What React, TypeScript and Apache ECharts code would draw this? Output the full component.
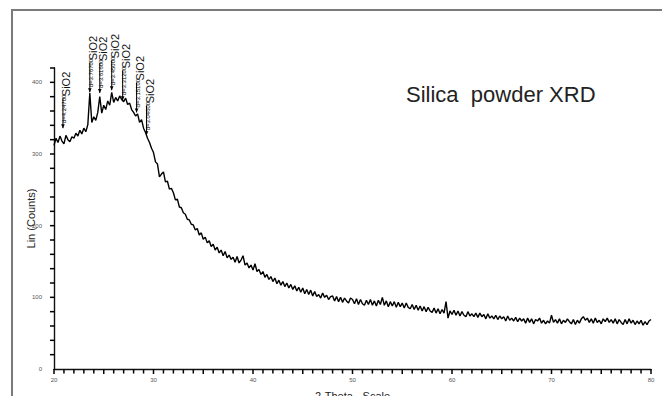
import React, { useEffect, useRef } from "react";
import * as echarts from "echarts";

// XRD scan: 2-theta from 20 to 80 degrees, step 0.2
const scanStart = 20;
const scanStep = 0.2;
const counts = [
  312, 322, 316, 325, 318, 314, 326, 320, 317, 324,
  322, 329, 325, 333, 328, 336, 331, 341, 385, 344,
  352, 347, 358, 380, 357, 368, 362, 374, 368, 386,
  372, 379, 374, 381, 376, 373, 378, 369, 371, 362,
  358, 353, 356, 344, 348, 336, 330, 322, 316, 308,
  302, 289, 286, 268, 272, 275, 261, 262, 251, 252,
  246, 236, 237, 226, 225, 218, 216, 209, 208, 202,
  201, 194, 196, 187, 190, 181, 184, 176, 179, 171,
  174, 166, 170, 162, 166, 158, 164, 155, 159, 153,
  156, 149, 157, 148, 152, 158, 145, 148, 141, 145,
  138, 147, 136, 139, 132, 136, 128, 132, 125, 129,
  122, 127, 119, 124, 117, 122, 115, 120, 113, 118,
  111, 116, 109, 114, 107, 113, 105, 111, 104, 110,
  102, 108, 101, 104, 99, 106, 100, 103, 97, 101,
  102, 95, 101, 94, 100, 93, 99, 95, 92, 99,
  97, 91, 98, 90, 97, 91, 89, 96, 90, 97,
  89, 95, 88, 96, 90, 100, 89, 95, 87, 94,
  88, 94, 86, 93, 87, 92, 85, 92, 86, 84,
  90, 83, 89, 82, 88, 81, 87, 80, 86, 81,
  79, 85, 78, 84, 77, 83, 78, 94, 71, 81,
  76, 82, 75, 81, 74, 80, 75, 73, 80, 74,
  77, 73, 78, 72, 78, 73, 76, 70, 77, 71,
  74, 70, 75, 69, 74, 70, 73, 67, 74, 68,
  71, 67, 72, 66, 71, 67, 70, 64, 71, 65,
  70, 63, 69, 67, 71, 64, 68, 63, 67, 64,
  75, 65, 69, 64, 70, 63, 68, 65, 70, 66,
  63, 69, 62, 68, 64, 70, 73, 68, 71, 65,
  70, 64, 71, 65, 68, 63, 70, 66, 71, 65,
  69, 64, 70, 63, 69, 65, 62, 69, 63, 70,
  64, 68, 62, 67, 63, 68, 61, 66, 62, 67,
  69,
];

// Phase identification markers
const peakAngles = [20.9, 23.6, 24.6, 25.8, 26.9, 28.3, 29.3];
const peakTips = [336, 386, 385, 389, 375, 358, 326];
const peakDLabels = [
  "d=4.24700",
  "d=3.76700",
  "d=3.61600",
  "d=3.45000",
  "d=3.31200",
  "d=3.15100",
  "d=3.04600",
];
const peakPhase = "SiO2";

// Axis ranges and tick steps
const xMin = 20;
const xMax = 80;
const xLabelStep = 10;
const xTickStep = 1;
const yMin = 0;
const yMax = 420;
const yLabelStep = 100;
const yTickStep = 20;

const chartTitle = "Silica  powder XRD";
const xName = "2-Theta - Scale";
const yName = "Lin (Counts)";

const FONT = "'Liberation Sans', Arial, sans-serif";

export default function App() {
  const ref = useRef<HTMLDivElement>(null);

  useEffect(() => {
    if (!ref.current) return;
    const chart = echarts.init(ref.current, null, { renderer: "svg" });

    const lineData = counts.map((c, i) => [
      +(scanStart + i * scanStep).toFixed(1),
      c,
    ]);
    const markerData = peakAngles.map((a, i) => [a, peakTips[i], i]);

    const xTickData: number[][] = [];
    for (let v = xMin; v <= xMax; v += xTickStep) xTickData.push([v, yMin]);
    const yTickData: number[][] = [];
    for (let v = yMin + yTickStep; v <= yMax; v += yTickStep)
      yTickData.push([xMin, v]);

    chart.setOption({
      animation: false,
      backgroundColor: "#ffffff",
      grid: {
        left: 54,
        right: 11,
        top: 68,
        bottom: 27,
        containLabel: false,
        outerBoundsMode: "none",
      },
      xAxis: {
        type: "value",
        min: xMin,
        max: xMax,
        interval: xLabelStep,
        name: xName,
        nameLocation: "middle",
        nameGap: 21,
        nameMoveOverlap: false,
        nameTextStyle: { fontSize: 11, color: "#222", fontFamily: FONT },
        axisLine: { show: true, onZero: false, lineStyle: { color: "#111", width: 1.4 } },
        axisTick: { show: false },
        splitLine: { show: false },
        axisLabel: {
          fontSize: 6,
          color: "#555",
          margin: 8,
          fontFamily: FONT,
        },
      },
      yAxis: {
        type: "value",
        min: yMin,
        max: yMax,
        interval: yTickStep,
        name: yName,
        nameLocation: "middle",
        nameGap: 18,
        nameMoveOverlap: false,
        nameTextStyle: { fontSize: 11, color: "#222", fontFamily: FONT },
        axisLine: { show: true, onZero: false, lineStyle: { color: "#111", width: 1.4 } },
        axisTick: { show: false },
        splitLine: { show: false },
        axisLabel: {
          fontSize: 6,
          color: "#555",
          margin: 12,
          fontFamily: FONT,
          showMaxLabel: false,
          formatter: (v: number) => (v % yLabelStep === 0 ? String(v) : ""),
        },
      },
      graphic: [
        {
          type: "rect",
          shape: { x: 12, y: 10, width: 760, height: 500 },
          style: { fill: "none", stroke: "#7a7a7a", lineWidth: 2 },
          silent: true,
        },
        {
          type: "text",
          x: 406,
          y: 94,
          style: {
            text: chartTitle,
            fontSize: 22,
            fontFamily: FONT,
            fill: "#222",
            align: "left",
            verticalAlign: "middle",
          },
        },
      ],
      series: [
        {
          type: "line",
          data: lineData,
          showSymbol: false,
          symbol: "none",
          lineStyle: { color: "#000", width: 1.4 },
          z: 2,
        },
        {
          // x-axis tick marks, drawn as small rect symbols hanging below the axis
          type: "scatter",
          data: xTickData,
          clip: false,
          silent: true,
          symbol: "rect",
          symbolSize: (val: number[]) => [1.5, val[0] % 5 === 0 ? 5 : 4],
          symbolOffset: [0, 2.5],
          itemStyle: { color: "#000", opacity: 1 },
          z: 5,
        },
        {
          // y-axis tick marks
          type: "scatter",
          data: yTickData,
          clip: false,
          silent: true,
          symbol: "rect",
          symbolSize: [5, 1.5],
          symbolOffset: [-1.5, 0],
          itemStyle: { color: "#000", opacity: 1 },
          z: 5,
        },
        {
          type: "custom",
          data: markerData,
          encode: { x: 0, y: 1 },
          z: 3,
          renderItem: (params: any, api: any) => {
            const p = api.coord([api.value(0), api.value(1)]);
            const idx = api.value(2);
            const x = p[0];
            const y = p[1];
            const dLen = 26;
            return {
              type: "group",
              children: [
                {
                  type: "line",
                  shape: { x1: x, y1: y, x2: x, y2: y - dLen - 4 },
                  style: { stroke: "#000", lineWidth: 1 },
                },
                {
                  type: "polygon",
                  shape: {
                    points: [
                      [x - 1.8, y - 4],
                      [x + 1.8, y - 4],
                      [x, y],
                    ],
                  },
                  style: { fill: "#000" },
                },
                {
                  type: "text",
                  x: x + 1,
                  y: y - 5,
                  rotation: Math.PI / 2,
                  style: {
                    text: peakDLabels[idx],
                    fontSize: 6,
                    fontFamily: FONT,
                    fill: "#000",
                    align: "left",
                    verticalAlign: "middle",
                  },
                },
                {
                  type: "text",
                  x: x + 3,
                  y: y - 5 - dLen - 1,
                  rotation: Math.PI / 2,
                  style: {
                    text: peakPhase,
                    fontSize: 11,
                    fontFamily: FONT,
                    fill: "#111",
                    align: "left",
                    verticalAlign: "middle",
                  },
                },
              ],
            };
          },
        },
      ],
    });

    return () => chart.dispose();
  }, []);

  return (
    <div
      ref={ref}
      style={{
        position: "fixed",
        left: 0,
        top: 0,
        width: 662,
        height: 396,
        background: "#fff",
      }}
    />
  );
}
